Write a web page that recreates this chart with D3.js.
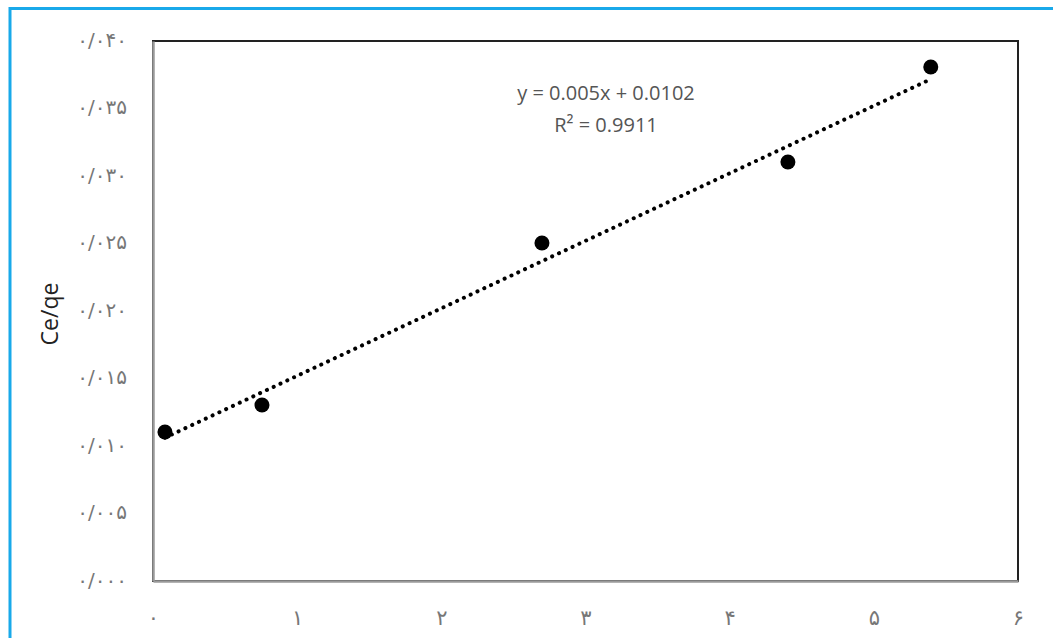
<!DOCTYPE html>
<html><head><meta charset="utf-8">
<script src="https://cdn.jsdelivr.net/npm/d3@7"></script>
<style>
html,body{margin:0;padding:0;background:#fff;}
svg{display:block;}
</style></head>
<body>
<svg id="chart" width="1053" height="638"></svg>
<script>
// Data
const xValues = [0.083, 0.756, 2.698, 4.404, 5.395];
const yValues = [0.01104, 0.01304, 0.02504, 0.03104, 0.03807];
const trendSlope = 0.005;
const trendIntercept = 0.0102;
const xTicks = [0, 1, 2, 3, 4, 5, 6];
const xTickLabels = ["۰", "۱", "۲", "۳", "۴", "۵", "۶"];
const yTicks = [0, 0.005, 0.01, 0.015, 0.02, 0.025, 0.03, 0.035, 0.04];
const yTickLabels = ["۰/۰۰۰", "۰/۰۰۵", "۰/۰۱۰", "۰/۰۱۵", "۰/۰۲۰", "۰/۰۲۵", "۰/۰۳۰", "۰/۰۳۵", "۰/۰۴۰"];
const equationText = "y = 0.005x + 0.0102";
const r2Text = "R² = 0.9911";
const yAxisTitle = "Ce/qe";

(function () {
const svg = d3.select("#chart");
const pLeft = 153, pRight = 1018, pTop = 41, pBottom = 581;

// outer blue frame
svg.append("rect").attr("x", 10).attr("y", 8.5).attr("width", 1100).attr("height", 700)
  .attr("fill", "none").attr("stroke", "#19a9ea").attr("stroke-width", 3);

const x = d3.scaleLinear().domain([0, 6]).range([pLeft, pRight]);
const y = d3.scaleLinear().domain([0, 0.04]).range([pBottom, pTop]);

// plot border (top/right dark)
svg.append("rect").attr("x", pLeft).attr("y", pTop).attr("width", pRight - pLeft).attr("height", pBottom - pTop)
  .attr("fill", "none").attr("stroke", "#222").attr("stroke-width", 2);

// axes
const xAxis = d3.axisBottom(x).tickValues(xTicks).tickSize(0)
  .tickFormat((d, i) => xTickLabels[i]);
const gx = svg.append("g").attr("transform", `translate(0,${pBottom})`).call(xAxis);
gx.select(".domain").attr("stroke", "#9a9a9a").attr("stroke-width", 2.5);
gx.selectAll("text").attr("dy", 0).attr("y", 44).attr("font-family", "DejaVu Sans, sans-serif")
  .attr("font-size", 21).attr("fill", "#777");

const yAxis = d3.axisLeft(y).tickValues(yTicks).tickSize(0)
  .tickFormat((d, i) => yTickLabels[i]);
const gy = svg.append("g").attr("transform", `translate(${pLeft},0)`).call(yAxis);
gy.select(".domain").attr("stroke", "#9a9a9a").attr("stroke-width", 2.5);
gy.selectAll("text").attr("x", -26).attr("dy", "0.25em").attr("font-family", "DejaVu Sans, sans-serif")
  .attr("font-size", 20).attr("letter-spacing", 1.5).attr("fill", "#777");

// y title
svg.append("text").attr("transform", `translate(58,314) rotate(-90)`)
  .attr("text-anchor", "middle").attr("font-family", "Open Sans, sans-serif")
  .attr("font-size", 23).attr("fill", "#222").text(yAxisTitle);

// trendline
const xMin = d3.min(xValues), xMax = d3.max(xValues);
const trend = [xMin, xMax].map(v => [v, trendSlope * v + trendIntercept]);
svg.append("path").datum(trend)
  .attr("d", d3.line().x(d => x(d[0])).y(d => y(d[1])))
  .attr("stroke", "#000").attr("stroke-width", 4).attr("fill", "none")
  .attr("stroke-linecap", "round").attr("stroke-dasharray", "0.1 7.4");

// points
svg.append("g").selectAll("circle").data(xValues.map((v, i) => [v, yValues[i]])).join("circle")
  .attr("cx", d => x(d[0])).attr("cy", d => y(d[1])).attr("r", 7.5).attr("fill", "#000");

// equation
svg.append("text").attr("x", 606).attr("y", 100).attr("text-anchor", "middle")
  .attr("font-family", "Open Sans, sans-serif").attr("font-size", 20).attr("fill", "#555").text(equationText);
svg.append("text").attr("x", 606).attr("y", 132).attr("text-anchor", "middle")
  .attr("font-family", "Open Sans, sans-serif").attr("font-size", 20).attr("fill", "#555").text(r2Text);
})();
</script>
</body></html>
